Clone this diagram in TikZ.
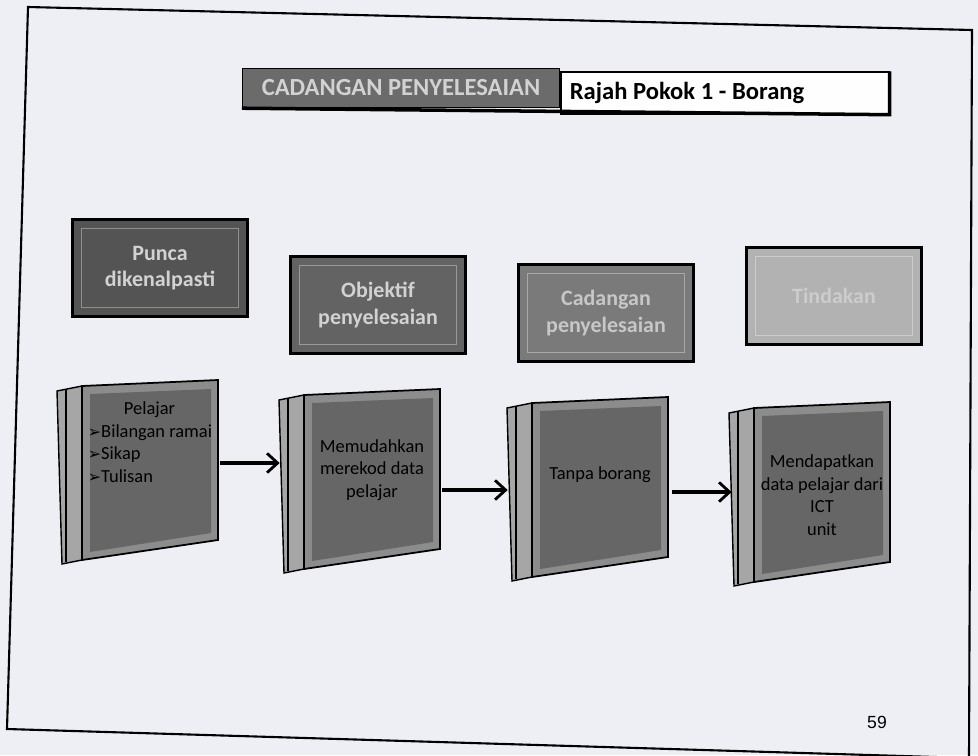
\documentclass[tikz,border=0pt]{standalone}
\usepackage{fontspec}
\setmainfont{Carlito}
\setsansfont{Liberation Sans}
\newfontfamily\symfont{DejaVu Sans}
\usepackage{xcolor}
\usetikzlibrary{positioning,arrows.meta,backgrounds}

\definecolor{paper}{HTML}{EDEFF5}
\definecolor{hdrtext}{HTML}{D2D2D2}

% 3d slab drawn behind node #1, face centre shifted by #2 px
\newcommand{\slab}[2]{%
  \begin{scope}[on background layer, shift={(#1.center)}, shift={(0,#2)}]
    \filldraw[fill=gray!70, draw=black, line width=0.8pt]
      (-93,-77) -- (-68,-82) -- (-68,92) -- (-88,96) -- cycle;
    \draw[black, line width=0.6pt] (-84,-79) -- (-84,94);
    \filldraw[fill=black!45, draw=black, line width=1pt]
      (-68,-82) -- (68,-88) -- (68,72) -- (-68,92) -- cycle;
    \fill[black!60] (-60,-74) -- (61,-79) -- (61,65) -- (-60,84) -- cycle;
  \end{scope}}

\begin{document}
\begin{tikzpicture}[x=0.02cm, y=-0.02cm]
            \tikzstyle{hdr} = [draw=black, line width=1.3pt, minimum width=3.5cm, minimum height=1.94cm,
                               align=center, font=\bfseries\fontsize{12.5}{15}\selectfont,
                               path picture={\draw[white, opacity=0.35, line width=0.5pt]
                                 ([shift={(5pt,-5pt)}]path picture bounding box.north west) rectangle
                                 ([shift={(-5pt,5pt)}]path picture bounding box.south east);}]
            \tikzstyle{blk} = [inner sep=0pt, minimum width=2.72cm, align=center,
                               font=\fontsize{10.5}{12.8}\selectfont, text=black]
            \tikzstyle{flow} = [line width=1.8pt, -{Straight Barb[length=6pt, width=11pt, line width=1.6pt]}]

            \useasboundingbox (0,0) rectangle (978,755);
            \begin{scope}[on background layer]
              \fill[paper] (0,0) rectangle (978,755);
            \end{scope}
            \draw[line width=1.2pt] (28,7) -- (972,30) -- (969,758) -- (7,729) -- cycle;

            % title bar
            \node [draw=black, line width=0.8pt, fill=black!58, minimum width=6.34cm, minimum height=0.78cm,
                   font=\bfseries\fontsize{14}{16}\selectfont, text=hdrtext] (T1) at (401,88)
                  {CADANGAN PENYELESAIAN};
            \node [draw=black, line width=0.8pt, fill=white!96!paper, minimum width=6.56cm, minimum height=0.84cm,
                   font=\bfseries\fontsize{14}{16}\selectfont, text width=6.2cm, align=left,
                   right = 0pt of T1, yshift=-0.1cm] (T2)
                  {\spaceskip=3.2pt\relax Rajah Pokok 1 - Borang};
            \draw[line width=2pt] (T1.south west) -- (T2.south east) -- (T2.north east);

            % headings
            \node [hdr, fill=black!67, text=hdrtext] (H1) at (160,268) {Punca\\dikenalpasti};
            \node [hdr, fill=black!61, text=hdrtext] (H2) at (378,305) {Objektif\\penyelesaian};
            \node [hdr, fill=black!52, text=black!22] (H3) at (606,313) {Cadangan\\penyelesaian};
            \node [hdr, fill=black!30, text=black!20] (H4) at (834,296) {Tindakan};

            % slabs
            \node [blk, align=left] (B1) at (150,442)
                  {\hspace*{0.72cm}Pelajar\\{\symfont\small ➢}Bilangan ramai\\{\symfont\small ➢}Sikap\\{\symfont\small ➢}Tulisan};
            \node [blk] (B2) at (372,470) {Memudahkan\\merekod data\\pelajar};
            \node [blk] (B3) at (600,475) {Tanpa borang};
            \node [blk] (B4) at (822,495) {Mendapatkan\\data pelajar dari\\ICT\\unit};
            \slab{B1}{26}
            \slab{B2}{7}
            \slab{B3}{10}
            \slab{B4}{-5}

            \coordinate (A1) at ([shift={(2,21)}]B1.east);
            \coordinate (A2) at ([shift={(-24,0)}]B2.west);
            \coordinate (A3) at ([shift={(2,20)}]B2.east);
            \coordinate (A4) at ([shift={(-24,0)}]B3.west);
            \coordinate (A5) at ([shift={(4,17)}]B3.east);
            \coordinate (A6) at ([shift={(-22,0)}]B4.west);

            \draw [flow] (A1) to (A1 -| A2);
            \draw [flow] (A3) to (A3 -| A4);
            \draw [flow] (A5) to (A5 -| A6);

            \node [font=\sffamily\fontsize{10}{12}\selectfont] (P) at (877,722) {59};
        \end{tikzpicture}
\end{document}
